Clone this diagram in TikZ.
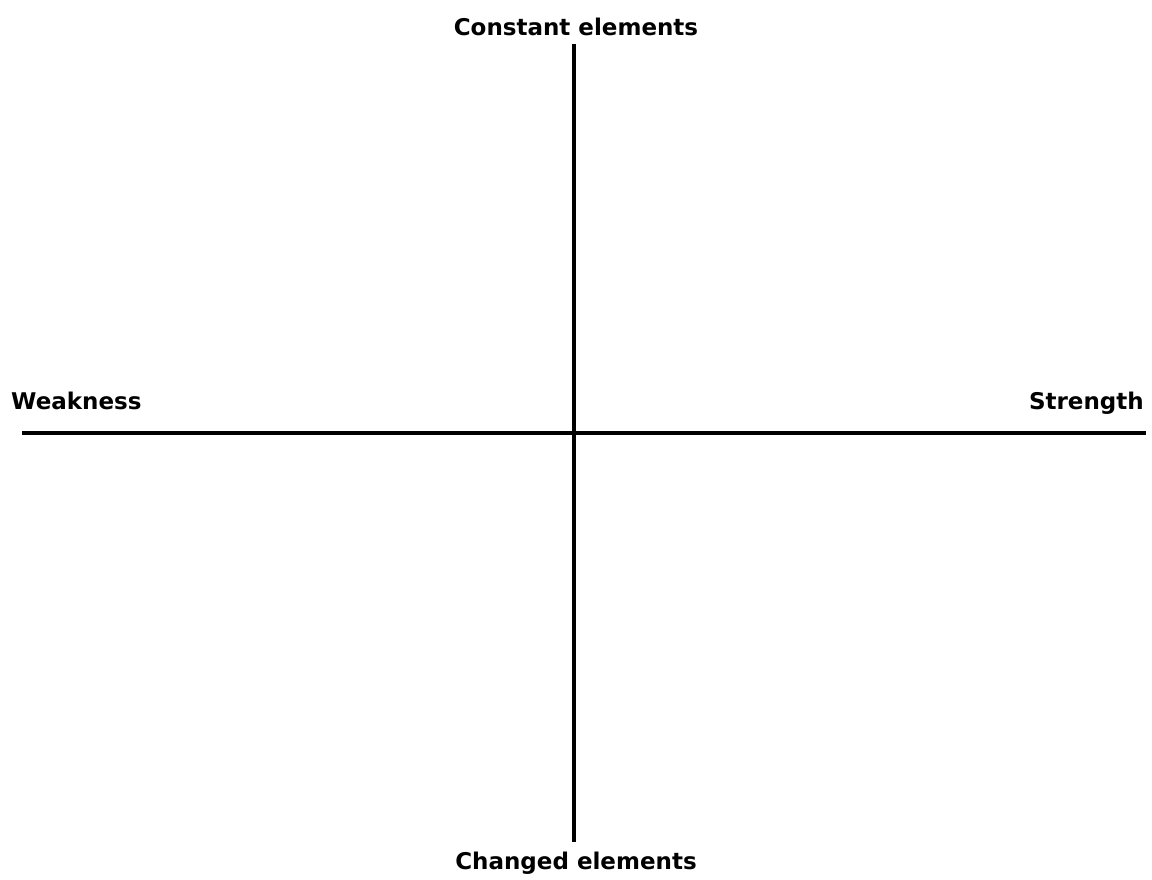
\documentclass[tikz,border=0pt]{standalone}
\usepackage{fontspec}
\setmainfont{DejaVu Sans}
\begin{document}
\begin{tikzpicture}[x=1pt,y=-1pt,
  axis/.style={line width=4.8pt},
  lbl/.style={font=\bfseries\fontsize{23}{27}\selectfont, inner sep=0pt}]
\useasboundingbox (0,0) rectangle (1152,880);
\coordinate (top) at (574,44);
\coordinate (bot) at (574,842);
\coordinate (lft) at (22,433);
\coordinate (rgt) at (1146,433);
\draw[axis] (top) -- (bot);
\draw[axis] (lft) -- (rgt);
\node[lbl, anchor=base] (c) at (576,36) {Constant elements};
\node[lbl, anchor=base] (ch) at (576,869) {Changed elements};
\node[lbl, anchor=base west] (w) at (11,409) {Weakness};
\node[lbl, anchor=base east] (s) at (1144,409) {Strength};
\end{tikzpicture}
\end{document}
